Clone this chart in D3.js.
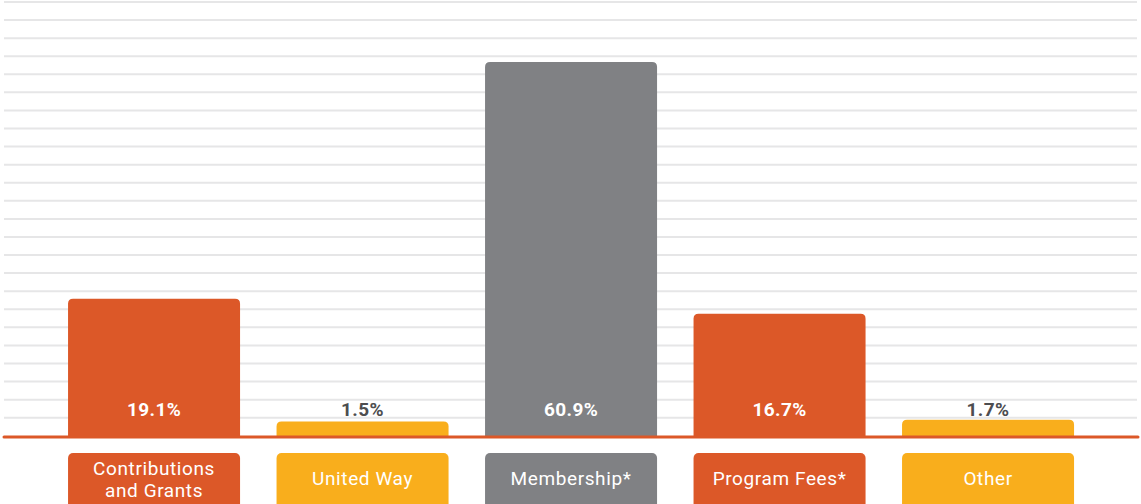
<!DOCTYPE html>
<html>
<head>
<meta charset="utf-8">
<script src="https://cdn.jsdelivr.net/npm/d3@7"></script>
<style>
  body { margin: 0; background: #fff; }
  svg { display: block; font-family: Roboto, "Open Sans", sans-serif; }
  .value-label { font-weight: 700; font-size: 19px; letter-spacing: 0.4px; }
  .cat-label { font-size: 19px; fill: #fff; letter-spacing: 0.6px; }
</style>
</head>
<body>
<div class="chart"></div>
<script>
const categories = ["Contributions and Grants", "United Way", "Membership*", "Program Fees*", "Other"];
const values = [19.1, 1.5, 60.9, 16.7, 1.7];
const valueLabels = ["19.1%", "1.5%", "60.9%", "16.7%", "1.7%"];
const colors = ["#dc5828", "#f9ae1c", "#808184", "#dc5828", "#f9ae1c"];

const width = 1141;
const height = 504;
const baseline = 437;
const gridCount = 24;

const svg = d3.select(".chart")
  .append("svg")
  .attr("width", width)
  .attr("height", height);

const data = categories.map((c, i) => ({
  name: c, value: values[i], label: valueLabels[i], color: colors[i]
}));

const xScale = d3.scaleBand()
  .domain(categories)
  .range([49.8, 1092.3])
  .paddingInner(0.175)
  .paddingOuter(0.0875);

// bar heights in the original are not strictly proportional; a power scale fits them
const hScale = d3.scalePow()
  .exponent(0.86)
  .domain([0, 60.9])
  .range([0, 375]);

const gridScale = d3.scaleLinear()
  .domain([0, gridCount - 1])
  .range([2, 417.7]);

svg.append("g")
  .selectAll("line")
  .data(d3.range(gridCount))
  .join("line")
  .attr("x1", 4)
  .attr("x2", 1137)
  .attr("y1", d => gridScale(d))
  .attr("y2", d => gridScale(d))
  .attr("stroke", "#e6e6e7")
  .attr("stroke-width", 2);

const r = 5;
function topRounded(x, y, w, h) {
  const rr = Math.min(r, h);
  return `M${x},${y + h} V${y + rr} Q${x},${y} ${x + rr},${y} H${x + w - rr} Q${x + w},${y} ${x + w},${y + rr} V${y + h} Z`;
}

svg.append("g")
  .selectAll("path")
  .data(data)
  .join("path")
  .attr("fill", d => d.color)
  .attr("d", d => topRounded(xScale(d.name), baseline - hScale(d.value), xScale.bandwidth(), hScale(d.value)));

svg.append("line")
  .attr("x1", 4)
  .attr("x2", 1138)
  .attr("y1", baseline)
  .attr("y2", baseline)
  .attr("stroke", "#dc5828")
  .attr("stroke-width", 3)
  .attr("stroke-linecap", "round");

svg.append("g")
  .selectAll("text")
  .data(data)
  .join("text")
  .attr("class", "value-label")
  .attr("x", d => xScale(d.name) + xScale.bandwidth() / 2)
  .attr("y", 416)
  .attr("text-anchor", "middle")
  .attr("fill", d => hScale(d.value) > 30 ? "#fff" : "#4d4d4f")
  .text(d => d.label);

const boxes = svg.append("g")
  .selectAll("g")
  .data(data)
  .join("g")
  .attr("transform", d => `translate(${xScale(d.name)},453)`);

boxes.append("rect")
  .attr("width", xScale.bandwidth())
  .attr("height", 60)
  .attr("rx", 5)
  .attr("fill", d => d.color);

boxes.append("text")
  .attr("class", "cat-label")
  .attr("x", xScale.bandwidth() / 2)
  .attr("text-anchor", "middle")
  .each(function(d) {
    const t = d3.select(this);
    if (d.name === "Contributions and Grants") {
      t.append("tspan").attr("x", xScale.bandwidth() / 2).attr("y", 22).text("Contributions");
      t.append("tspan").attr("x", xScale.bandwidth() / 2).attr("y", 44).text("and Grants");
    } else {
      t.attr("y", 32).text(d.name);
    }
  });
</script>
</body>
</html>
